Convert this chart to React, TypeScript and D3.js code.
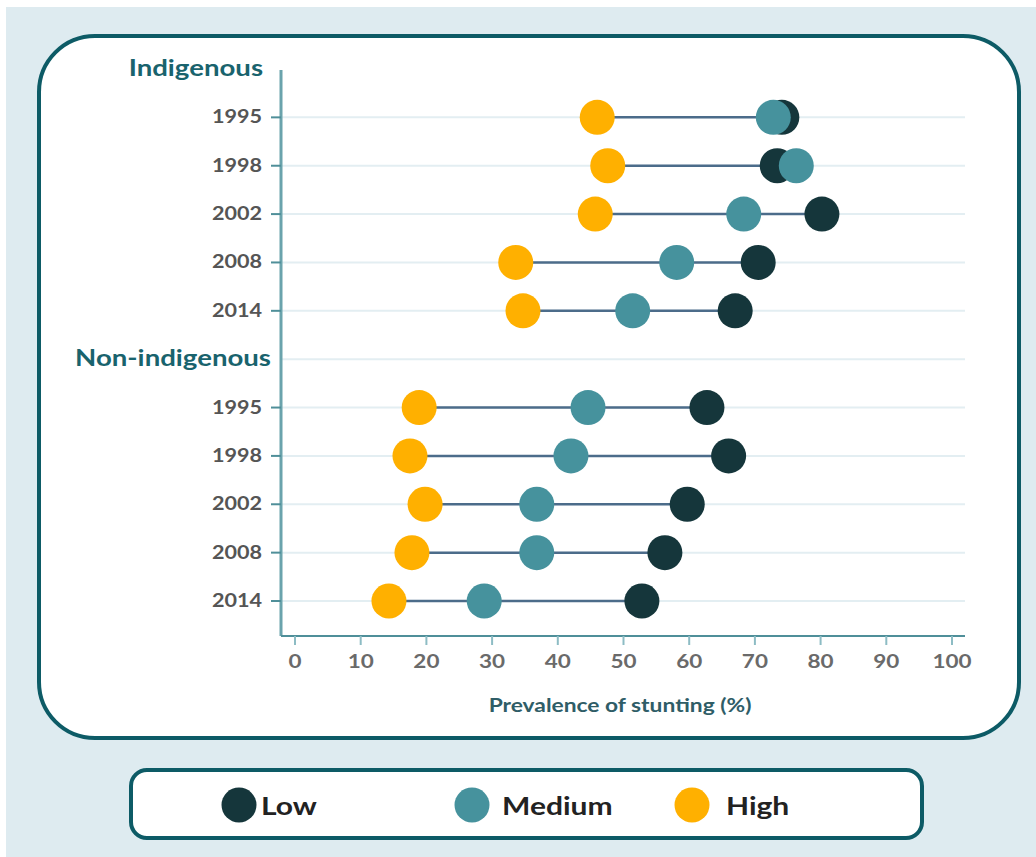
import { useEffect, useRef } from 'react';
import * as d3 from 'd3';

// rows: group header, then years
const groups = ['Indigenous', 'Non-indigenous'];
const years = ['1995', '1998', '2002', '2008', '2014'];

// prevalence of stunting (%) by wealth level
const indigenousLow = [74.1, 73.4, 80.2, 70.5, 67.0];
const indigenousMedium = [72.8, 76.3, 68.3, 58.1, 51.4];
const indigenousHigh = [46.0, 47.6, 45.7, 33.6, 34.7];

const nonIndigenousLow = [62.7, 66.0, 59.7, 56.3, 52.8];
const nonIndigenousMedium = [44.6, 42.0, 36.8, 36.8, 28.8];
const nonIndigenousHigh = [18.9, 17.5, 19.8, 17.8, 14.3];

const xTicks = [0, 10, 20, 30, 40, 50, 60, 70, 80, 90, 100];

const levels = ['Low', 'Medium', 'High'];
const levelColors = ['#15363b', '#46929d', '#ffb000'];

const W = 1036;
const H = 857;
const FONT = 'Lato, "Open Sans", sans-serif';

export default function App() {
  const svgRef = useRef<SVGSVGElement>(null);

  useEffect(() => {
    if (!svgRef.current) return;
    const svg = d3.select(svgRef.current);
    svg.selectAll('*').remove();

    // page background + rounded panels
    svg.append('rect').attr('x', 6).attr('y', 7).attr('width', W - 6).attr('height', H - 7).attr('fill', '#deebf0');
    svg
      .append('rect')
      .attr('x', 39).attr('y', 36).attr('width', 980).attr('height', 702)
      .attr('rx', 56).attr('ry', 56)
      .attr('fill', '#ffffff').attr('stroke', '#0d5b66').attr('stroke-width', 4);

    // rows
    const rowKeys: string[] = [];
    const rows: { key: string; label: string; header: boolean; low?: number; medium?: number; high?: number }[] = [];
    const sets = [
      [indigenousLow, indigenousMedium, indigenousHigh],
      [nonIndigenousLow, nonIndigenousMedium, nonIndigenousHigh],
    ];
    groups.forEach((g, gi) => {
      rowKeys.push(g);
      rows.push({ key: g, label: g, header: true });
      years.forEach((y, yi) => {
        const key = `${g}-${y}`;
        rowKeys.push(key);
        rows.push({ key, label: y, header: false, low: sets[gi][0][yi], medium: sets[gi][1][yi], high: sets[gi][2][yi] });
      });
    });

    const x = d3.scaleLinear().domain([0, 100]).range([295, 952]);
    const y = d3.scalePoint<string>().domain(rowKeys).range([69, 601]);
    const axisX = 281;
    const axisY = 636;
    const plotRight = 965;

    // gridlines
    svg
      .append('g')
      .selectAll('line')
      .data(rows.slice(1))
      .enter()
      .append('line')
      .attr('x1', axisX).attr('x2', plotRight)
      .attr('y1', (d) => y(d.key)!).attr('y2', (d) => y(d.key)!)
      .attr('stroke', '#e3eef2').attr('stroke-width', 2);

    // y axis
    svg.append('line').attr('x1', axisX).attr('x2', axisX).attr('y1', 70).attr('y2', axisY)
      .attr('stroke', '#6aa3ac').attr('stroke-width', 3);
    svg
      .append('g')
      .selectAll('line')
      .data(rows.filter((d) => !d.header))
      .enter()
      .append('line')
      .attr('x1', axisX - 10).attr('x2', axisX)
      .attr('y1', (d) => y(d.key)!).attr('y2', (d) => y(d.key)!)
      .attr('stroke', '#4f8f99').attr('stroke-width', 2);

    // row labels
    svg
      .append('g')
      .selectAll('text')
      .data(rows)
      .enter()
      .append('text')
      .attr('transform', (d, i) => {
        const tx = d.header ? (i === 0 ? 263 : 271) : 262;
        return `translate(${tx}, ${y(d.key)! + (d.header ? 7 : 6)}) scale(1.2, 1)`;
      })
      .attr('text-anchor', 'end')
      .style('font-family', FONT)
      .style('font-weight', 'bold')
      .style('font-size', (d) => (d.header ? '23px' : '18px'))
      .style('fill', (d) => (d.header ? '#19636d' : '#555555'))
      .text((d) => d.label);

    // x axis
    svg.append('line').attr('x1', axisX).attr('x2', plotRight).attr('y1', axisY).attr('y2', axisY)
      .attr('stroke', '#4f8f99').attr('stroke-width', 2);
    const xt = svg.append('g').selectAll('g').data(xTicks).enter().append('g');
    xt.append('line')
      .attr('x1', (d) => x(d)).attr('x2', (d) => x(d))
      .attr('y1', axisY).attr('y2', axisY + 9)
      .attr('stroke', '#8dbcc4').attr('stroke-width', 2);
    xt.append('text')
      .attr('transform', (d) => `translate(${x(d)}, 668) scale(1.25, 1)`)
      .attr('text-anchor', 'middle')
      .style('font-family', FONT)
      .style('font-size', '18px')
      .style('font-weight', 'bold')
      .style('fill', '#6a6a6a')
      .text((d) => String(d));

    svg.append('text')
      .attr('transform', `translate(620, 712) scale(1.2, 1)`)
      .attr('text-anchor', 'middle')
      .style('font-family', FONT)
      .style('font-weight', 'bold')
      .style('font-size', '19px')
      .style('fill', '#2f5d67')
      .text('Prevalence of stunting (%)');

    // dumbbells
    const dataRows = rows.filter((d) => !d.header);
    const marks = svg.append('g').selectAll('g').data(dataRows).enter().append('g');
    marks.append('line')
      .attr('x1', (d) => x(Math.min(d.low!, d.medium!, d.high!)))
      .attr('x2', (d) => x(Math.max(d.low!, d.medium!, d.high!)))
      .attr('y1', (d) => y(d.key)!).attr('y2', (d) => y(d.key)!)
      .attr('stroke', '#4c6c8a').attr('stroke-width', 2.5);
    const fields: ('low' | 'medium' | 'high')[] = ['low', 'medium', 'high'];
    fields.forEach((f, i) => {
      marks.append('circle')
        .attr('cx', (d) => x(d[f]!))
        .attr('cy', (d) => y(d.key)!)
        .attr('r', 17.5)
        .attr('fill', levelColors[i]);
    });

    // legend
    svg.append('rect')
      .attr('x', 131).attr('y', 770).attr('width', 791).attr('height', 68)
      .attr('rx', 16).attr('ry', 16)
      .attr('fill', '#ffffff').attr('stroke', '#0d5b66').attr('stroke-width', 4);
    const legendX = [239, 472, 692];
    const legendGap = [22, 30, 34];
    const lg = svg.append('g').selectAll('g').data(levels).enter().append('g');
    lg.append('circle')
      .attr('cx', (d, i) => legendX[i]).attr('cy', 805).attr('r', 17.5)
      .attr('fill', (d, i) => levelColors[i]);
    lg.append('text')
      .attr('transform', (d, i) => `translate(${legendX[i] + legendGap[i]}, 815) scale(1.2, 1)`)
      .style('font-family', FONT)
      .style('font-weight', 'bold')
      .style('font-size', '25px')
      .style('fill', '#222222')
      .text((d) => d);
  }, []);

  return (
    <svg
      ref={svgRef}
      width={W}
      height={H}
      style={{ position: 'absolute', left: 0, top: 0, background: '#ffffff' }}
    />
  );
}
